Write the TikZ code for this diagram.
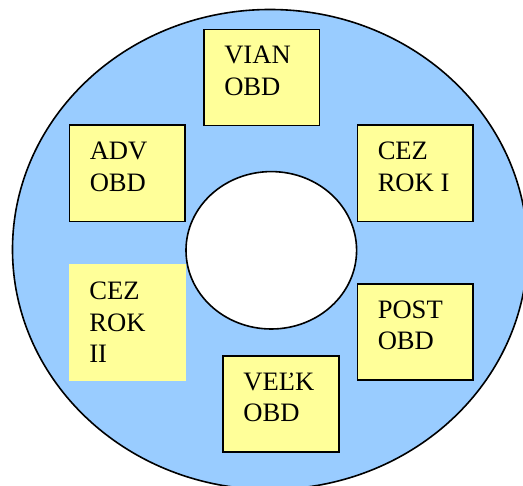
\documentclass[tikz,border=0pt]{standalone}
\usepackage{fontspec}
\setmainfont{Liberation Serif}
\definecolor{ringblue}{RGB}{153,204,255}
\definecolor{boxyellow}{RGB}{255,255,153}
\begin{document}
\begin{tikzpicture}[x=1pt, y=-1pt,
  obdbox/.style={draw, line width=1.6pt, fill=boxyellow, minimum width=115.7pt, minimum height=96.3pt, inner sep=0pt},
  obdtext/.style={anchor=north west, inner sep=0pt, align=left, font=\fontsize{26.6}{31.7}\selectfont}]
\useasboundingbox (0,0) rectangle (523,486);
\draw [line width=1.6pt, fill=ringblue] (270,249.5) node (ring) {} ellipse [x radius=257.5pt, y radius=240pt];
\draw [line width=1.6pt, fill=white] (271.3,250.3) node (hole) {} ellipse [x radius=85.3pt, y radius=78.7pt];
\node [obdbox] (vian) at (261.7,77.5) {};
\node [obdbox] (adv) at (127.2,173.3) {};
\node [obdbox] (rok1) at (415.2,173.3) {};
\node [obdbox, draw=none, minimum width=116.7pt, minimum height=116.7pt] (rok2) at (127.3,322.3) {};
\node [obdbox] (post) at (415.2,331.9) {};
\node [obdbox] (velk) at (280.9,404) {};
\node [obdtext] (vian-t) at ([shift={(21,17.4)}]vian.north west) {VIAN\\OBD};
\node [obdtext] (adv-t) at ([shift={(21,17.4)}]adv.north west) {ADV\\OBD};
\node [obdtext] (rok1-t) at ([shift={(21,17.4)}]rok1.north west) {CEZ\\ROK I};
\node [obdtext] (rok2-t) at ([shift={(21,18.4)}]rok2.north west) {CEZ\\ROK\\II};
\node [obdtext] (post-t) at ([shift={(21,17.4)}]post.north west) {POST\\OBD};
\node [obdtext] (velk-t) at ([shift={(21,17.4)}]velk.north west) {VEĽK\\OBD};
\end{tikzpicture}
\end{document}
